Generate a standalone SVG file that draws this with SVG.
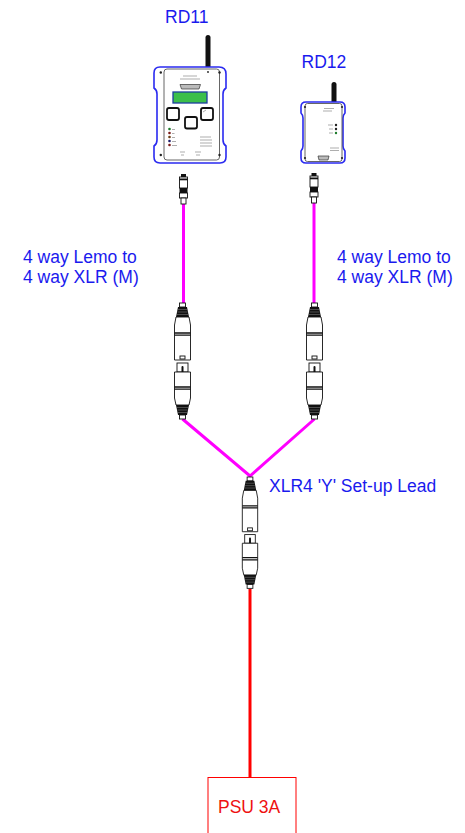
<svg xmlns="http://www.w3.org/2000/svg" xmlns:xlink="http://www.w3.org/1999/xlink" width="465" height="833" viewBox="0 0 465 833">
  <style>
    .lbl { font-family: "Liberation Sans", Arial, sans-serif; font-size: 17.5px; fill: #1a1aee; }
    .psu { font-family: "Liberation Sans", Arial, sans-serif; font-size: 17.5px; fill: #ee1111; }
    .case { fill: #ffffff; stroke: #2a2af0; stroke-width: 1.6; }
    .body { fill: #ffffff; stroke: #555555; stroke-width: 0.9; }
    .ol { fill: #ffffff; stroke: #111111; stroke-width: 0.9; }
    .blk { fill: #111111; }
    .tiny { stroke: #777777; stroke-width: 0.6; }
    .screw { fill: #222222; }
    .btn { fill: #ffffff; stroke: #111111; stroke-width: 1.8; }
    .mag { stroke: #ff00ff; stroke-width: 3; fill: none; }
    .red { stroke: #ff0000; stroke-width: 3; fill: none; }
  </style>
  <defs>
    <!-- XLR4 male plug (top) mated with female socket (bottom), centred on x=0 -->
    <g id="xlr">
      <rect class="ol" x="-3" y="0" width="6" height="4"/>
      <path class="blk" d="M-4.5,4 L4.5,4 L6.5,14 L-6.5,14 Z"/>
      <path d="M-4.5,6.5 H4.5 M-5,9 H5 M-5.5,11.5 H5.5" stroke="#888" stroke-width="0.5"/>
      <path class="ol" d="M-6.5,14 L-8,22 L-8,57 L8,57 L8,22 L6.5,14 Z"/>
      <path d="M-8,30 H8 M-8,32.2 H8" stroke="#111" stroke-width="1.3"/>
      <rect class="ol" x="-2.5" y="53" width="5" height="3"/>
      <rect class="ol" x="-5.5" y="60" width="11" height="9"/>
      <rect class="blk" x="-1" y="63" width="2" height="7" rx="1"/>
      <path class="ol" d="M-8,69 L8,69 L8,95 L6.5,102 L-6.5,102 L-8,95 Z"/>
      <path d="M-8,84 H8 M-8,86.2 H8" stroke="#111" stroke-width="1.3"/>
      <path class="blk" d="M-6.5,102 L6.5,102 L4.5,112 L-4.5,112 Z"/>
      <path d="M-5.5,104.5 H5.5 M-5,107 H5 M-4.5,109.5 H4.5" stroke="#888" stroke-width="0.5"/>
      <rect class="ol" x="-3" y="112" width="6" height="4"/>
    </g>
    <!-- 4-way Lemo plug, centred on x=0 -->
    <g id="lemo">
      <rect class="blk" x="-2.5" y="0" width="5" height="3"/>
      <rect class="ol" x="-4" y="3" width="8" height="11"/>
      <rect class="blk" x="-4" y="4.5" width="8" height="1.8"/>
      <rect class="blk" x="-4" y="14" width="8" height="5"/>
      <rect class="ol" x="-4" y="19" width="8" height="5"/>
      <rect class="ol" x="-2.5" y="24" width="5" height="6"/>
    </g>
  </defs>

  <!-- cables -->
  <g id="connectors">
    <line class="mag" x1="183.5" y1="204" x2="183.5" y2="304"/>
    <line class="mag" x1="314" y1="203" x2="314" y2="304"/>
    <polyline class="mag" points="182.5,419 250,476 314.5,419"/>
    <line class="red" x1="250" y1="589" x2="250" y2="778"/>
  </g>

  <!-- RD11 transceiver -->
  <g id="rd11">
    <text class="lbl" x="165" y="23" font-size="17">RD11</text>
    <rect x="205.5" y="35" width="5" height="34" rx="2.5" fill="#111"/>
    <path class="case" d="M160,67 H219 Q226,67 226,74 V88 Q223,90 223,94 V140 Q223,144 226,146 V157 Q226,163 220,163 H160 Q154,163 154,157 V146 Q157,144 157,140 V94 Q157,90 154,88 V73 Q154,67 160,67 Z"/>
    <rect class="body" x="164" y="69" width="55.5" height="91" rx="3"/>
    <circle class="screw" cx="160.8" cy="72.5" r="1.2"/>
    <circle class="screw" cx="219.5" cy="72.5" r="1.2"/>
    <circle class="screw" cx="160.8" cy="155" r="1.2"/>
    <circle class="screw" cx="219.5" cy="155" r="1.2"/>
    <circle class="screw" cx="208" cy="72" r="0.9"/>
    <path class="tiny" d="M183,76 H197 M180,79 H200"/>
    <path d="M180,84.5 H200.5 L199,89 H181.5 Z" fill="#bbbbbb" stroke="#333" stroke-width="0.7"/>
    <rect x="173" y="92" width="34" height="11" fill="#3cbf4a" stroke="#1d3d9e" stroke-width="1.3"/>
    <rect class="btn" x="167" y="108" width="12" height="12" rx="2"/>
    <rect class="btn" x="201" y="108" width="12" height="12" rx="2"/>
    <rect class="btn" x="185" y="117" width="12" height="11.5" rx="2"/>
    <path class="tiny" d="M203,112 L206,110"/>
    <circle cx="169.5" cy="129" r="1.3" fill="#1b7a2a"/>
    <circle cx="169.5" cy="133" r="1.3" fill="#7a1a1a"/>
    <circle cx="169.5" cy="137" r="1.3" fill="#6a3a10"/>
    <circle cx="169.5" cy="141" r="1.3" fill="#1a1a6a"/>
    <circle cx="169.5" cy="145" r="1.3" fill="#7a1a1a"/>
    <path class="tiny" d="M172,129.5 H175 M172,133.5 H174.5 M172,137.5 H175 M172,141.5 H176 M172,145.5 H177"/>
    <path class="tiny" d="M200,137 H211 M200,140 H212 M200,143 H212 M200,146 H212"/>
    <path class="tiny" d="M180,152 H185 M181,155 H184 M195,152 H201 M196,155 H200"/>
  </g>

  <!-- RD12 receiver -->
  <g id="rd12">
    <text class="lbl" x="301.5" y="68" font-size="17">RD12</text>
    <rect x="331.5" y="82" width="5" height="22" rx="2.5" fill="#111"/>
    <path class="case" d="M306,102 H340 Q345,102 345,107 V113 Q343,115 343,118 V146 Q343,149 345,151 V158 Q345,163 340,163 H306 Q301,163 301,158 V151 Q303,149 303,146 V118 Q303,115 301,113 V107 Q301,102 306,102 Z"/>
    <rect class="body" x="305" y="103.5" width="37" height="58" rx="2.5"/>
    <circle class="screw" cx="305" cy="107" r="1.1"/>
    <circle class="screw" cx="342" cy="107" r="1.1"/>
    <circle class="screw" cx="305" cy="158" r="1.1"/>
    <circle class="screw" cx="342" cy="158" r="1.1"/>
    <path class="tiny" d="M324,108.5 H334 M323,111 H332"/>
    <circle cx="336" cy="125" r="1.2" fill="#222"/>
    <circle cx="336" cy="129" r="1.2" fill="#222"/>
    <circle cx="336" cy="133" r="1.2" fill="#1b7a2a"/>
    <path class="tiny" d="M328,125 H333 M329,129 H333 M329,133 H333"/>
    <path class="tiny" d="M330,148 H339 M330,150.5 H339"/>
    <path d="M318,156 H329 L328,160 H319 Z" fill="#bbbbbb" stroke="#333" stroke-width="0.7"/>
  </g>

  <!-- Lemo plugs -->
  <g id="lemo-rd11"><use xlink:href="#lemo" href="#lemo" transform="translate(183.5,174)"/></g>
  <g id="lemo-rd12"><use xlink:href="#lemo" href="#lemo" transform="translate(314,173)"/></g>

  <!-- cable labels -->
  <g id="label-left">
    <text class="lbl" x="23" y="263">4 way Lemo to</text>
    <text class="lbl" x="23" y="283">4 way XLR (M)</text>
  </g>
  <g id="label-right">
    <text class="lbl" x="337" y="263">4 way Lemo to</text>
    <text class="lbl" x="337" y="283">4 way XLR (M)</text>
  </g>

  <!-- XLR joints -->
  <g id="xlr-left"><use xlink:href="#xlr" href="#xlr" transform="translate(182.5,303)"/></g>
  <g id="xlr-right"><use xlink:href="#xlr" href="#xlr" transform="translate(314.5,303)"/></g>
  <g id="xlr-y">
    <use xlink:href="#xlr" href="#xlr" transform="translate(250,477) scale(0.96)"/>
    <text class="lbl" x="269" y="492">XLR4 'Y' Set-up Lead</text>
  </g>

  <!-- power supply -->
  <g id="psu">
    <rect x="208" y="777.5" width="88" height="70" fill="#ffffff" stroke="#ff0000" stroke-width="1"/>
    <text class="psu" x="218" y="813">PSU 3A</text>
  </g>
</svg>
